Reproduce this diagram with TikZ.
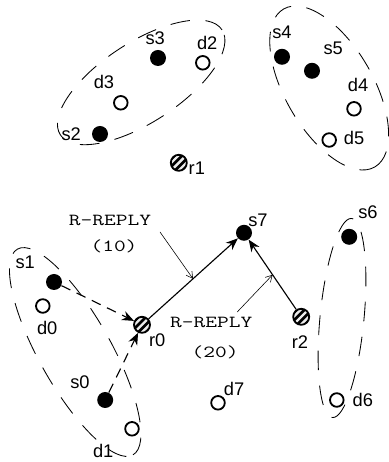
\documentclass[tikz,border=0pt]{standalone}
\usepackage{fontspec}
\setmainfont{Liberation Sans}
\usetikzlibrary{arrows.meta, calc}

\begin{document}
\begin{tikzpicture}[src/.style={circle, fill=black, minimum size=0.4cm, inner sep=0pt},
				dst/.style={circle, draw=black, line width=1.3pt, minimum size=0.34cm, inner sep=0pt},
				relay/.style={circle, draw=black, fill=black, line width=1.3pt, minimum size=0.4cm, inner sep=0pt,
					path picture={\foreach \o in {-0.095,0,0.095}{\draw[gray!15, line width=1.7pt] ([shift={(\o,-\o)}]path picture bounding box.center) ++(-0.3,-0.3) -- ++(0.6,0.6);}}},
				lbl/.style={font=\fontsize{13}{15}\selectfont, inner sep=0pt},
				msg/.style={font=\ttfamily\fontsize{12}{14}\selectfont, xscale=1.35, inner sep=0pt},
				grp/.style={draw=black, line width=0.6pt, dash pattern=on 14pt off 11pt},
				arr/.style={draw=black, line width=0.8pt, -{Stealth[length=3mm, width=2.4mm]}},
				dasharr/.style={arr, dash pattern=on 7pt off 5pt},
				ptr/.style={draw=black, line width=0.4pt, -{Straight Barb[length=1.6mm, width=1.8mm]}}]
				\useasboundingbox (0,0) rectangle (9.7,11.55);
				
				% groups
				\draw[grp, rotate around={33:(3.53,9.49)}] (3.53,9.49) ellipse (2.41 and 1.0);
				\draw[grp, rotate around={-60:(8.23,9.35)}] (8.23,9.35) ellipse (2.28 and 1.1);
				\draw[grp, rotate around={-60.7:(1.88,2.75)}] (1.88,2.75) ellipse (2.95 and 0.9);
				\draw[grp, rotate around={84.5:(8.55,3.6)}] (8.55,3.6) ellipse (2.5 and 0.55);
				
				\node[src] (s0) at (2.63,1.55){};
				\node[src] (s1) at (1.35,4.5){};
				\node[src] (s2) at (2.5,8.2){};
				\node[src] (s3) at (3.95,10.1){};
				\node[src] (s4) at (7.05,10.13){};
				\node[src] (s5) at (7.8,9.78){};
				\node[src] (s6) at (8.73,5.63){};
				\node[src] (s7) at (6.1,5.73){};
				
				\node[dst] (d0) at (1.07,3.9){};
				\node[dst] (d1) at (3.3,0.83){};
				\node[dst] (d2) at (5.07,9.98){};
				\node[dst] (d3) at (3.02,8.98){};
				\node[dst] (d4) at (8.85,8.83){};
				\node[dst] (d5) at (8.23,8.05){};
				\node[dst] (d6) at (8.42,1.55){};
				\node[dst] (d7) at (5.45,1.48){};
				
				\node[relay] (r0) at (3.55,3.43){};
				\node[relay] (r1) at (4.47,7.48){};
				\node[relay] (r2) at (7.53,3.63){};
				
				\node[lbl] (ts0) at (2.0,2.0){s0};
				\node[lbl] (ts1) at (0.63,4.98){s1};
				\node[lbl] (ts2) at (1.78,8.2){s2};
				\node[lbl] (ts3) at (3.88,10.6){s3};
				\node[lbl] (ts4) at (7.05,10.73){s4};
				\node[lbl] (ts5) at (8.33,10.33){s5};
				\node[lbl] (ts6) at (9.2,6.25){s6};
				\node[lbl] (ts7) at (6.45,6.05){s7};
				\node[lbl] (td0) at (1.18,3.35){d0};
				\node[lbl] (td1) at (2.58,0.27){d1};
				\node[lbl] (td2) at (5.18,10.48){d2};
				\node[lbl] (td3) at (2.6,9.5){d3};
				\node[lbl] (td4) at (8.95,9.43){d4};
				\node[lbl] (td5) at (8.85,8.1){d5};
				\node[lbl] (td6) at (9.07,1.55){d6};
				\node[lbl] (td7) at (5.85,1.82){d7};
				\node[lbl] (tr0) at (3.93,3.05){r0};
				\node[lbl] (tr1) at (4.92,7.35){r1};
				\node[lbl] (tr2) at (7.5,3.0){r2};
				
				\node[msg] (m1) at (2.75,6.05){R-REPLY};
				\node[msg] (n1) at (2.85,5.4){(10)};
				\node[msg] (m2) at (5.28,3.5){R-REPLY};
				\node[msg] (n2) at (5.38,2.75){(20)};
				
				\coordinate (p1) at (4.0,5.75);
				\coordinate (p2) at (5.93,3.75);
				\coordinate (h1) at ($(r0)!0.5!(s7)$);
				\coordinate (h2) at ($(r2)!0.5!(s7)$);
				
				\path (s1) edge[dasharr] (r0);
				\path (s0) edge[dasharr] (r0);
				\path (r0) edge[arr] (s7);
				\path (r2) edge[arr] (s7);
				\path (p1) edge[ptr] (h1);
				\path (p2) edge[ptr] (h2);
\end{tikzpicture}
\end{document}
